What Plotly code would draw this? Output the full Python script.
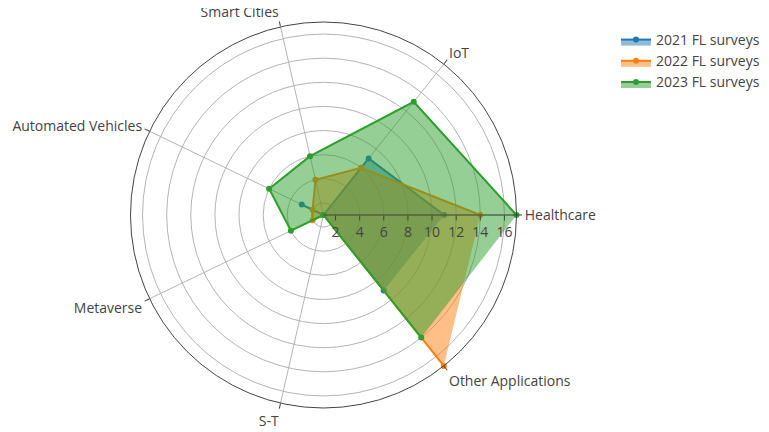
import plotly.graph_objects as go

categories = ["Healthcare", "IoT", "Smart Cities", "Automated Vehicles",
              "Metaverse", "S-T", "Other Applications"]
values_2021 = [11, 7, 1, 3, 1, 1, 9]
values_2022 = [14, 6, 4, 2, 2, 1, 17]
values_2023 = [17, 13, 6, 6, 4, 1, 14]
series_names = ["2021 FL surveys", "2022 FL surveys", "2023 FL surveys"]
colors = ["#1f77b4", "#ff7f0e", "#2ca02c"]
radial_range = [1, 17]

fig = go.Figure()
for name, vals, c in zip(series_names, [values_2021, values_2022, values_2023], colors):
    fig.add_trace(go.Scatterpolar(
        r=vals, theta=categories, fill="toself", name=name,
        mode="lines+markers",
        line=dict(color=c, width=2), marker=dict(color=c, size=6),
    ))

fig.update_layout(
    template="none",
    width=769, height=432,
    font=dict(family="Open Sans, verdana, arial, sans-serif", size=14, color="#444"),
    margin=dict(l=23, r=160, t=14, b=32),
    paper_bgcolor="white",
    polar=dict(
        bgcolor="white",
        radialaxis=dict(range=radial_range, ticks="outside", showline=True,
                        linecolor="#444", gridcolor="#b4b4b4", angle=0, dtick=2,
                        tickcolor="#444"),
        angularaxis=dict(ticks="outside", linecolor="#444", gridcolor="#b4b4b4",
                         direction="counterclockwise", rotation=0, tickcolor="#444"),
    ),
    legend=dict(xref="container", yref="container", x=0.7906, xanchor="left",
                y=0.963, yanchor="top"),
)

fig.write_html("out.html")
